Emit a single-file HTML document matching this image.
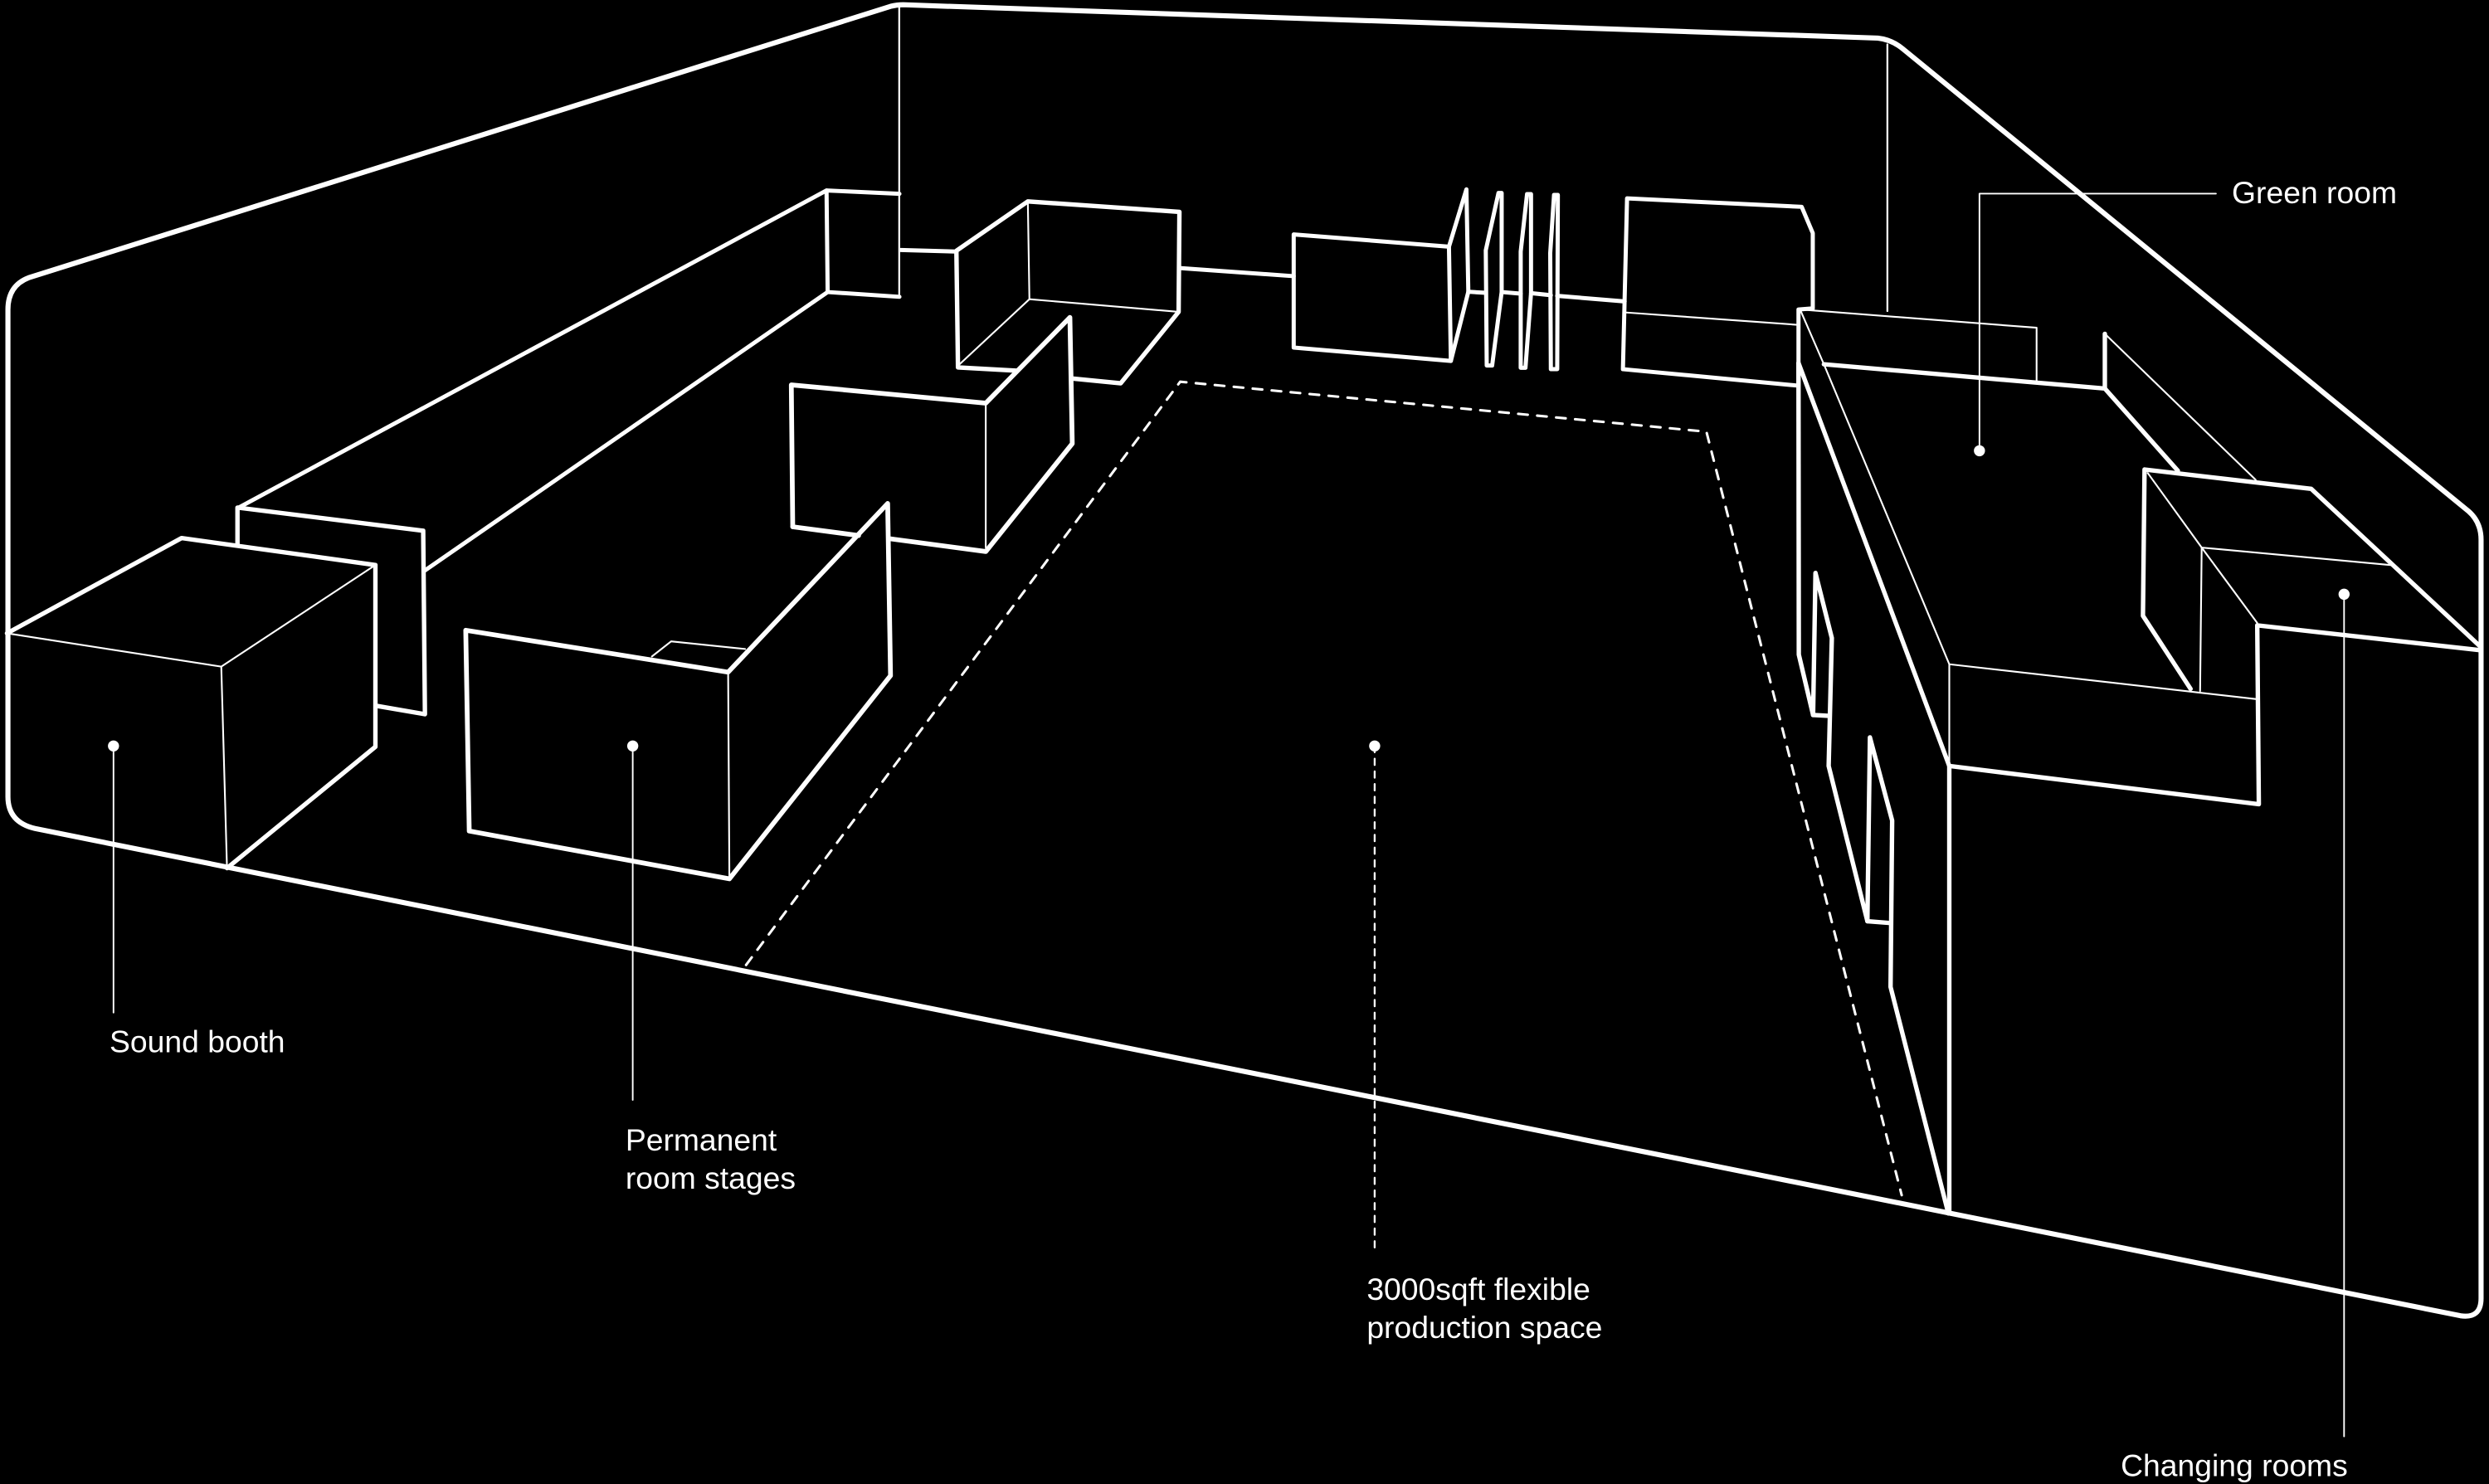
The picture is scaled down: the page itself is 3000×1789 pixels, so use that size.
<!DOCTYPE html>
<html><head><meta charset="utf-8"><style>
html,body{margin:0;padding:0;background:#000;}
svg{display:block;}
text{font-family:"Liberation Sans",Arial,sans-serif;font-size:19.5px;fill:#fff;}
</style></head><body>
<svg width="3000" height="1789" viewBox="0 0 1568 935" preserveAspectRatio="none" xmlns="http://www.w3.org/2000/svg">
<rect width="1568" height="935" fill="#000"/>
<g fill="none" stroke="#fff" stroke-linejoin="round" stroke-linecap="round">
<!-- outer shell -->
<path stroke-width="3.2" d="M18,175 L561,4 Q565,3 569,3 L1183,24 Q1192,25 1199,31 L1555,322 Q1563,329 1563,340 L1563,818 Q1563,831 1550,829 L22,522 Q5,518 5,502 L5,195 Q5,180 18,175 Z"/>
<g stroke-width="1.2">
<line x1="566.5" y1="4" x2="566.5" y2="187"/>
<line x1="1189" y1="28" x2="1189" y2="196"/>
</g>
<!-- left long wall -->
<g stroke-width="2.6">
<polyline points="150,320 520.7,120 566.6,122.1"/>
<polyline points="267.7,359.4 521.4,184 566.6,187"/>
<line x1="520.7" y1="120" x2="521.4" y2="184"/>
<polyline points="567.5,157.5 602.5,158.5"/>
<polyline points="743,168.9 815,174"/>
</g>
<polyline stroke-width="2.8" points="149.6,343.6 149.6,319.8 266.6,334.4 267.7,450 237.6,444.8"/>
<!-- sound booth -->
<polyline stroke-width="2.8" points="4.4,399 114.4,339 236.5,356 236.5,470.5 143,547"/>
<g stroke-width="1.1">
<polyline points="4.4,399 139.4,420 236.5,356"/>
<line x1="139.4" y1="420" x2="143" y2="547"/>
</g>
<!-- permanent stage -->
<polygon stroke-width="3" points="293.4,397.1 458.7,423.5 559.2,317.2 561,425.7 459.5,553.7 295.6,523.6"/>
<line stroke-width="1.1" x1="458.7" y1="423.5" x2="459.5" y2="553.7"/>
<polyline stroke-width="1.1" points="410.7,413.6 422.8,404.1 469.4,408.9"/>
<!-- middle box -->
<polyline stroke-width="3" points="499.4,331.9 498.5,242.5 621,254 674,200 675.5,279.5 621,347.5 561,339.5"/>
<line stroke-width="3" x1="499.4" y1="331.9" x2="540.9" y2="337.4"/>
<line stroke-width="1.1" x1="621" y1="254" x2="621" y2="345"/>
<!-- upper box -->
<polyline stroke-width="2.8" points="640,233.5 603.5,231.5 602.5,158 647.5,126.9 743,133.5 742.5,196.5 706,241.5 675.5,238.5"/>
<g stroke-width="1.1">
<polyline points="647.5,126.9 648.5,188.5 742.5,196.5"/>
<line x1="648.5" y1="188.5" x2="604.5" y2="229.5"/>
</g>
<!-- back panels -->
<g stroke-width="2.6">
<polygon points="815,147.7 912.8,155.4 914,227.4 815,219"/>
<polyline points="912.8,155.4 923.8,119.3 925,183.8 914,227.4"/>
<line x1="925" y1="183.8" x2="936" y2="184.5"/>
<polygon points="936,157.7 944,121.6 946,121.6 946,184 940,230.3 936.6,230.3"/>
<line x1="946" y1="184" x2="958" y2="185"/>
<polygon points="958,158.5 962,122.3 964.5,122.3 964.5,184.7 961,231.7 958,231.7"/>
<line x1="964.5" y1="184.7" x2="977" y2="186"/>
<polygon points="976.6,159.4 979,122.8 981.4,122.8 981,232.6 977,232.6"/>
<line x1="981" y1="186.4" x2="1023.5" y2="189.9"/>
<polygon points="1025,125 1135,130.3 1142,146.9 1142,194.3 1133,195 1133,243 1022.4,232.6"/>
</g>
<line stroke-width="1.1" x1="1024.6" y1="196.9" x2="1133" y2="204.7"/>
<!-- green room -->
<g stroke-width="1.1">
<polyline points="1134,195 1283,206.5 1283,240"/>
<line x1="1134" y1="195" x2="1149" y2="229.5"/>
<line x1="1149" y1="229.5" x2="1228" y2="418.5"/>
<line x1="1326" y1="210.3" x2="1421" y2="302.3"/>
<line x1="1228" y1="418.5" x2="1421" y2="440.4"/>
<line x1="1228" y1="418.5" x2="1228" y2="482.6"/>
<line x1="1353" y1="298" x2="1387" y2="345"/>
<polyline points="1506,356 1387,345 1386,435.4"/>
<line x1="1387" y1="345" x2="1422" y2="392.5"/>
</g>
<g stroke-width="2.8">
<polyline points="1149,229.5 1326,244.8 1372,296.6"/>
<line x1="1326" y1="210.3" x2="1326" y2="244.8"/>
<polyline points="1380,434 1350,388 1351,295.8 1456,308 1563,407.8"/>
<polyline points="1563,409.7 1422,394 1423,506.7 1228,482.6"/>
<polyline points="1133,228.7 1228,482.6 1228,764.5"/>
<polyline points="1133,228.7 1133.2,412.4 1142.2,450.5 1151.8,451"/>
<polyline points="1142.2,450.5 1143.7,361 1154,402 1152,482.6 1176.4,580.4 1190,581.5"/>
<polyline points="1176.4,580.4 1178,464.6 1192,517 1191,621.8 1227.4,764.5"/>
</g>
<polyline stroke-width="1.6" stroke-dasharray="6,6" points="470,608 743.5,240.5 1075,272 1198,753"/>
<g stroke-width="1">
<line x1="71.5" y1="470" x2="71.5" y2="638"/>
<line x1="398.6" y1="470" x2="398.6" y2="693"/>
<line x1="1476.7" y1="374" x2="1476.7" y2="905"/>
<polyline points="1247,284 1247,122 1396,122"/>
</g>
<line stroke-width="1.2" stroke-dasharray="4,4" x1="866" y1="470" x2="866" y2="790"/>
</g>
<g fill="#fff">
<circle cx="71.5" cy="470" r="3.5"/>
<circle cx="398.6" cy="470" r="3.5"/>
<circle cx="866" cy="470" r="3.5"/>
<circle cx="1247" cy="284" r="3.5"/>
<circle cx="1476.7" cy="374.4" r="3.5"/>
</g>
<text x="69" y="663">Sound booth</text>
<text x="394" y="725">Permanent</text>
<text x="394" y="749">room stages</text>
<text x="861" y="819">3000sqft flexible</text>
<text x="861" y="843">production space</text>
<text x="1406" y="128">Green room</text>
<text x="1336" y="930">Changing rooms</text>
</svg>
</body></html>
